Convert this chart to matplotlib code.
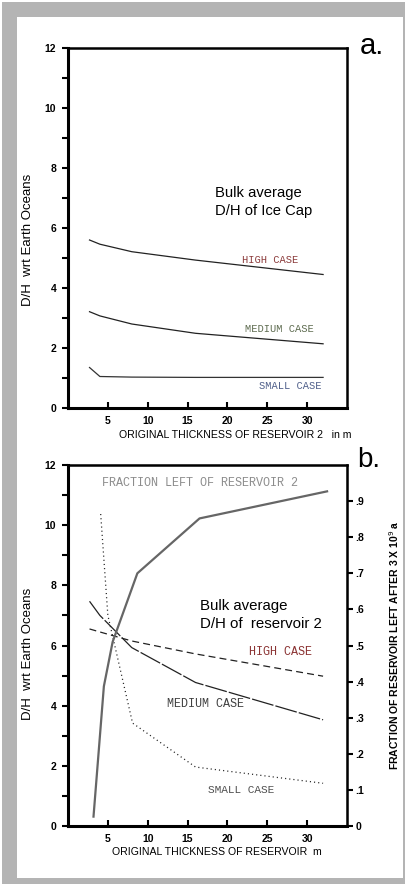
import matplotlib.pyplot as plt
from matplotlib.patches import Rectangle

plt.rcParams['lines.scale_dashes'] = False

# (a) bulk average D/H of the ice cap
thick_a = [2.7, 4, 8, 16, 32]
high_a = [5.6, 5.46, 5.21, 4.93, 4.45]
medium_a = [3.21, 3.07, 2.8, 2.49, 2.14]
small_a = [1.35, 1.05, 1.03, 1.02, 1.02]

# (b) bulk average D/H of reservoir 2 + fraction of reservoir left
thick_b = [2.7, 4, 8, 16, 32]
high_b = [6.55, 6.45, 6.15, 5.72, 4.98]
medium_b = [7.47, 7.0, 5.93, 4.77, 3.53]
thick_small = [4.1, 5.0, 8.1, 16, 32]
small_b = [10.37, 7.0, 3.42, 1.96, 1.42]
thick_frac = [3.2, 4.5, 5.6, 8.7, 16.5, 32.5]
frac_left = [0.026, 0.387, 0.51, 0.70, 0.852, 0.927]

xticks = [5, 10, 15, 20, 25, 30]
yticks = list(range(0, 13))
ylabels = [str(v) if v % 2 == 0 else '' for v in yticks]
rticks = [0, .1, .2, .3, .4, .5, .6, .7, .8, .9]
rlabels = ['0', '.1', '.2', '.3', '.4', '.5', '.6', '.7', '.8', '.9']

W, H = 406, 884
fig = plt.figure(figsize=(W / 100, H / 100), dpi=100, facecolor='white')

# grey frame around the white page
fig.patches.append(Rectangle((2 / W, 0), 404 / W, 882 / H, transform=fig.transFigure,
                             facecolor='#b4b4b4', edgecolor='none', zorder=-3))
fig.patches.append(Rectangle((17 / W, 1 - 878 / H), 386 / W, 861 / H, transform=fig.transFigure,
                             facecolor='white', edgecolor='none', zorder=-2))

sans = ['Liberation Sans', 'DejaVu Sans']
mono = ['Liberation Mono', 'DejaVu Sans Mono']


def style_axes(ax):
    ax.set_xlim(0, 35)
    ax.set_ylim(0, 12)
    ax.set_facecolor('none')
    for s in ['left', 'bottom']:
        ax.spines[s].set_linewidth(2.2)
    for s in ['top', 'right']:
        ax.spines[s].set_linewidth(1.8)
    ax.set_xticks(xticks)
    ax.set_xticklabels([str(v) for v in xticks], fontsize=7.5, fontweight='bold', family=sans)
    ax.set_yticks(yticks)
    ax.set_yticklabels(ylabels, fontsize=7.5, fontweight='bold', family=sans)
    ax.tick_params(axis='x', direction='in', length=4.5, width=1.5, pad=6)
    ax.tick_params(axis='y', direction='out', length=4.5, width=1.5, pad=4)
    ax.set_ylabel('D/H  wrt Earth Oceans', fontsize=9.5, family=sans)


# ---- panel a ----
axa = fig.add_axes([68 / W, 1 - 408 / H, 279 / W, 360 / H])
style_axes(axa)
axa.plot(thick_a, high_a, color='#222222', lw=0.9)
axa.plot(thick_a, medium_a, color='#222222', lw=0.9)
axa.plot(thick_a, small_a, color='#333333', lw=0.9)
axa.text(25.4, 4.93, 'HIGH CASE', color='#8b3a3a', fontsize=7.5, family=mono, ha='center', va='center')
axa.text(26.5, 2.63, 'MEDIUM CASE', color='#5d6b4f', fontsize=7.5, family=mono, ha='center', va='center')
axa.text(27.9, 0.73, 'SMALL CASE', color='#4f5f8a', fontsize=7.5, family=mono, ha='center', va='center')
axa.text(18.5, 7.4, 'Bulk average\nD/H of Ice Cap', fontsize=10.6, family=sans,
         ha='left', va='top', linespacing=1.4)
axa.set_xlabel('ORIGINAL THICKNESS OF RESERVOIR 2   in m', fontsize=7.6, family=sans, color='black')
axa.xaxis.set_label_coords(0.6, -27 / 360)
axa.xaxis.label.set_va('center')
axa.yaxis.set_label_coords(-0.122, 0.467)
fig.text(360 / W, 1 - 54 / H, 'a.', fontsize=21, family=sans, ha='left', va='baseline')

# ---- panel b ----
axb = fig.add_axes([68 / W, 1 - 826 / H, 279 / W, 361 / H])
style_axes(axb)
axb.plot(thick_b, high_b, color='#222222', lw=0.9, dashes=(5, 3))
axb.plot(thick_b, medium_b, color='#222222', lw=0.9, dashes=(16, 1.5))
axb.plot(thick_small, small_b, color='#222222', lw=0.9, dashes=(0.8, 2.2))
axb.text(16.5, 11.4, 'FRACTION LEFT OF RESERVOIR 2', color='#8c8c8c', fontsize=8.5,
         family=mono, ha='center', va='center')
axb.text(26.7, 5.77, 'HIGH CASE', color='#8b3333', fontsize=8.5, family=mono, ha='center', va='center')
axb.text(17.2, 4.07, 'MEDIUM CASE', color='#404040', fontsize=8.5, family=mono, ha='center', va='center')
axb.text(21.75, 1.2, 'SMALL CASE', color='#505050', fontsize=8, family=mono, ha='center', va='center')
axb.text(16.5, 7.55, 'Bulk average\nD/H of  reservoir 2', fontsize=10.8, family=sans,
         ha='left', va='top', linespacing=1.35)
axb.set_xlabel('ORIGINAL THICKNESS OF RESERVOIR  m', fontsize=7.6, family=sans, color='black')
axb.xaxis.set_label_coords(0.532, -26 / 360)
axb.xaxis.label.set_va('center')
axb.yaxis.set_label_coords(-0.122, 0.478)

ax2 = axb.twinx()
ax2.set_ylim(0, 1)
ax2.set_yticks(rticks)
ax2.set_yticklabels(rlabels, fontsize=7.5, fontweight='bold', family=sans)
ax2.tick_params(axis='y', direction='out', length=4, width=1.5, pad=2)
ax2.plot(thick_frac, frac_left, color='#666666', lw=1.6)
ax2.set_ylabel('FRACTION OF RESERVOIR LEFT AFTER 3 X 10$^9$ a', fontsize=7.5,
               fontweight='bold', family=sans)
ax2.yaxis.set_label_coords(1.143, 0.5)
fig.text(357 / W, 1 - 467 / H, 'b.', fontsize=20, family=sans, ha='left', va='baseline')

fig.savefig('out.png', dpi=100, facecolor='white')
